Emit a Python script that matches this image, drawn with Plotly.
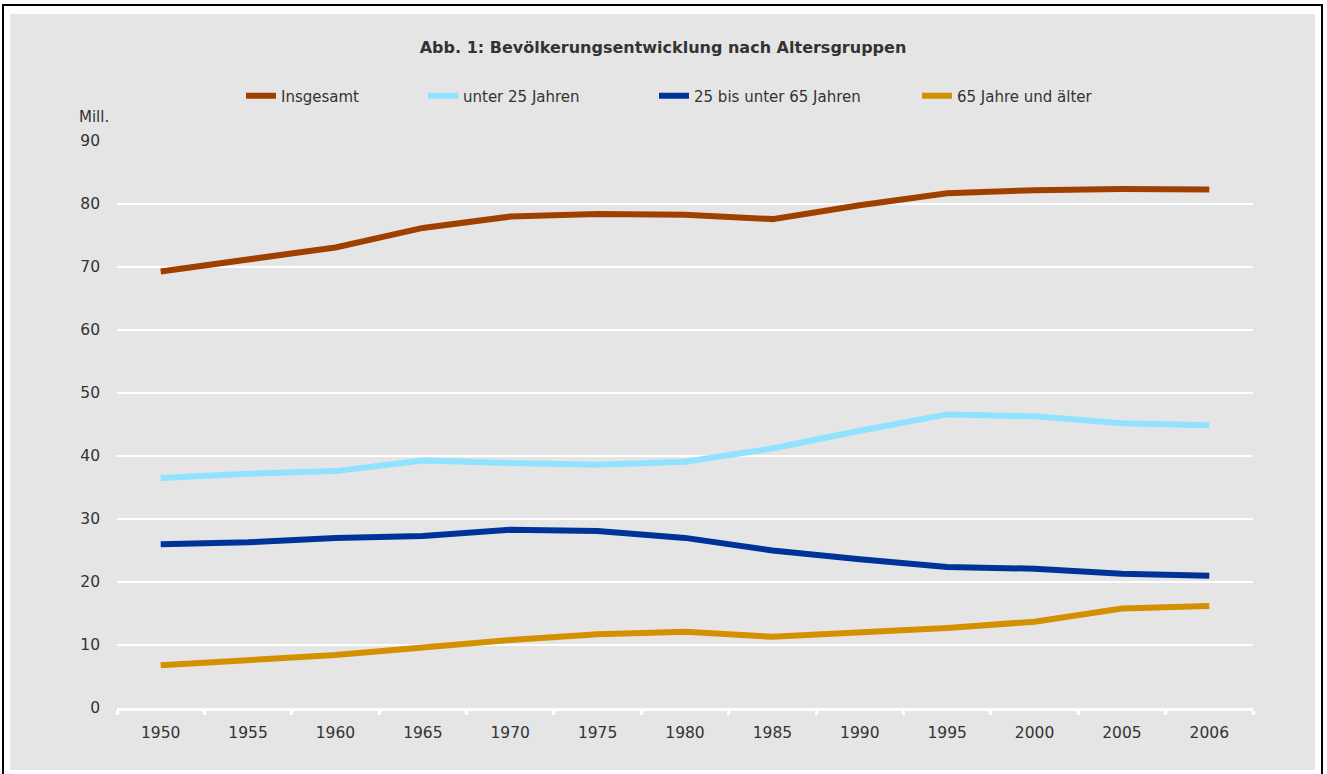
import plotly.graph_objects as go

years = ["1950", "1955", "1960", "1965", "1970", "1975", "1980", "1985",
         "1990", "1995", "2000", "2005", "2006"]
insgesamt = [69.3, 71.3, 73.1, 76.2, 78.0, 78.4, 78.3, 77.6, 79.8, 81.7, 82.2, 82.4, 82.3]
unter25 = [36.5, 37.2, 37.6, 39.3, 38.9, 38.6, 39.1, 41.2, 44.0, 46.6, 46.3, 45.2, 44.9]
mitte = [26.0, 26.3, 27.0, 27.3, 28.3, 28.1, 27.0, 25.0, 23.6, 22.4, 22.1, 21.3, 21.0]
ab65 = [6.8, 7.6, 8.4, 9.6, 10.8, 11.7, 12.1, 11.3, 11.9, 12.7, 13.7, 15.8, 16.2]

series_names = ["Insgesamt", "unter 25 Jahren", "25 bis unter 65 Jahren", "65 Jahre und älter"]
series_values = [insgesamt, unter25, mitte, ab65]
colors = ["#a04000", "#8fe3fe", "#003399", "#d39000"]

W, H = 1327, 774
L, R, T, B = 117, 1253, 141, 708
PW, PH = R - L, B - T

def px(x):
    return (x - L) / PW

def py(y):
    return (B - y) / PH

FONT = "DejaVu Sans"
TXT = "#333333"

legend_x = [241, 423, 654, 917]
legend_names = ["legend", "legend2", "legend3", "legend4"]

fig = go.Figure()
for name, vals, col, lg in zip(series_names, series_values, colors, legend_names):
    fig.add_trace(go.Scatter(x=years, y=vals, name=name, mode="lines",
                             line=dict(color=col, width=6), legend=lg))

layout_legends = {}
for lg, lx in zip(legend_names, legend_x):
    layout_legends[lg] = dict(
        x=px(lx), y=py(96), xanchor="left", yanchor="middle",
        orientation="h", bgcolor="rgba(0,0,0,0)", borderwidth=0,
        font=dict(family=FONT, size=15, color=TXT),
    )

fig.update_layout(
    width=W, height=H,
    margin=dict(l=L, r=W - R, t=T, b=H - B),
    paper_bgcolor="white",
    plot_bgcolor="#e5e5e5",
    font=dict(family=FONT, size=15, color=TXT),
    showlegend=True,
    hovermode=False,
    title=dict(text="<b>Abb. 1: Bevölkerungsentwicklung nach Altersgruppen</b>",
               x=663 / W, xref="container", xanchor="center",
               y=1 - 47 / H, yref="container", yanchor="middle",
               font=dict(family=FONT, size=16, color=TXT)),
    xaxis=dict(type="category", range=[-0.5, 12.5], tickson="boundaries", ticks="outside",
               ticklen=4, tickwidth=3, tickcolor="white",
               showline=True, linecolor="white", linewidth=3,
               showgrid=False, zeroline=False, ticklabelstandoff=8,
               tickfont=dict(family=FONT, size=15.5, color=TXT)),
    yaxis=dict(range=[0, 90], tickvals=[0, 10, 20, 30, 40, 50, 60, 70, 80, 90],
               showgrid=True, gridcolor="white", gridwidth=2,
               zeroline=False, showline=False, ticks="",
               ticklabelstandoff=16,
               tickfont=dict(family=FONT, size=15.5, color=TXT)),
    annotations=[dict(text="Mill.", x=px(77), y=py(117), xref="paper", yref="paper",
                      xanchor="left", yanchor="middle", showarrow=False,
                      font=dict(family=FONT, size=15, color=TXT))],
    shapes=[
        dict(type="rect", xref="paper", yref="paper", layer="below",
             x0=px(3), x1=px(1322), y0=py(5), y1=py(778),
             line=dict(color="black", width=2), fillcolor="white"),
        dict(type="rect", xref="paper", yref="paper", layer="below",
             x0=px(10), x1=px(1315), y0=py(14), y1=py(770),
             line=dict(width=0), fillcolor="#e5e5e5"),
    ],
    **layout_legends,
)

fig.write_html("out.html", config={"displayModeBar": False},
               post_script="document.body.style.margin='0';document.body.style.overflow='hidden';")
